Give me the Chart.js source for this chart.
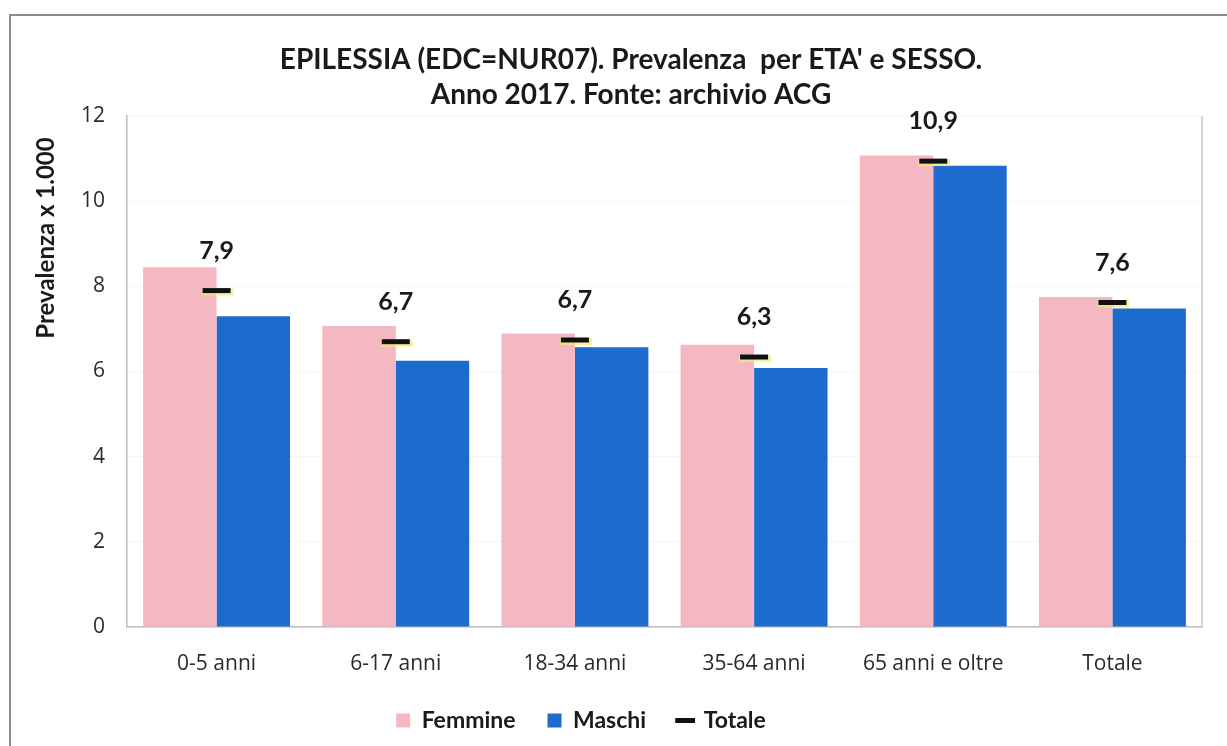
<!DOCTYPE html>
<html>
<head>
<meta charset="utf-8">
<script src="https://cdn.jsdelivr.net/npm/chart.js@4"></script>
<style>
    html, body { margin: 0; padding: 0; background: #fff; overflow: hidden; }
    #wrap { position: relative; width: 1227px; height: 746px; }
    #frame {
        position: absolute; left: 9px; top: 14px; width: 1240px; height: 760px;
        border: 2px solid #8c8c8c; box-sizing: border-box;
    }
    canvas { position: absolute; left: 0; top: 0; }
</style>
</head>
<body>
<div id="wrap">
    <div id="frame"></div>
    <canvas id="epiChart" width="1227" height="746"></canvas>
</div>
<script>
// Data
const categories = ['0-5 anni', '6-17 anni', '18-34 anni', '35-64 anni', '65 anni e oltre', 'Totale'];
const femmine = [8.45, 7.07, 6.89, 6.63, 11.07, 7.75];
const maschi = [7.30, 6.25, 6.57, 6.08, 10.83, 7.48];
const totale = [7.9, 6.7, 6.74, 6.34, 10.94, 7.62];
const yTicks = [0, 2, 4, 6, 8, 10, 12];

const FONT = 'Lato, "Open Sans", sans-serif';
const TICK_FONT = '"Open Sans", Lato, sans-serif';

// Y title, plot frame, glow under the Totale dashes and the value labels
const extras = {
    id: 'extras',
    afterLayout(chart) {
        // legend sits a bit left of centre in the original
        chart.legend.left -= 50;
        chart.legend.right -= 50;
    },
    beforeDatasetDraw(chart, args) {
        if (args.index !== 2) return;
        const ctx = chart.ctx;
        ctx.save();
        ctx.fillStyle = 'rgba(240, 235, 120, 0.7)';
        args.meta.data.forEach(pt => {
            ctx.fillRect(pt.x - 15, pt.y - 2, 32, 7);
        });
        ctx.restore();
    },
    afterDraw(chart) {
        const ctx = chart.ctx;
        const area = chart.chartArea;
        ctx.save();
        // right edge of plot
        ctx.strokeStyle = '#c8c8c8';
        ctx.lineWidth = 1.5;
        ctx.beginPath();
        ctx.moveTo(area.right, area.top);
        ctx.lineTo(area.right, area.bottom);
        ctx.stroke();

        // y axis title
        ctx.fillStyle = '#1a1a1a';
        ctx.font = 'bold 24px ' + FONT;
        ctx.textAlign = 'center';
        ctx.textBaseline = 'middle';
        ctx.translate(46, 238);
        ctx.rotate(-Math.PI / 2);
        ctx.fillText('Prevalenza x 1.000', 0, 0);
        ctx.restore();

        // labels above Totale
        const meta = chart.getDatasetMeta(2);
        ctx.save();
        ctx.fillStyle = '#1a1a1a';
        ctx.font = 'bold 25px ' + FONT;
        ctx.textAlign = 'center';
        ctx.textBaseline = 'middle';
        meta.data.forEach((pt, i) => {
            ctx.fillText(totale[i].toFixed(1).replace('.', ','), pt.x, pt.y - 40);
        });
        ctx.restore();
    }
};

const ctx = document.getElementById('epiChart').getContext('2d');
new Chart(ctx, {
    type: 'bar',
    data: {
        labels: categories,
        datasets: [
            {
                label: 'Femmine',
                data: femmine,
                backgroundColor: '#f4b8c2',
                pointStyle: 'rect',
                categoryPercentage: 0.82,
                barPercentage: 1.0,
                order: 2
            },
            {
                label: 'Maschi',
                data: maschi,
                backgroundColor: '#1d6bcc',
                pointStyle: 'rect',
                categoryPercentage: 0.82,
                barPercentage: 1.0,
                order: 2
            },
            {
                type: 'line',
                label: 'Totale',
                data: totale,
                showLine: false,
                borderColor: '#111',
                backgroundColor: '#111',
                borderWidth: 3,
                pointStyle: 'line',
                pointRadius: 14,
                pointHoverRadius: 14,
                pointBorderWidth: 5,
                pointBorderColor: '#111',
                order: 1
            }
        ]
    },
    options: {
        responsive: false,
        animation: false,
        layout: { padding: { left: 60, right: 25, top: 42, bottom: 4 } },
        plugins: {
            title: {
                display: true,
                text: ["EPILESSIA (EDC=NUR07). Prevalenza  per ETA' e SESSO.", 'Anno 2017. Fonte: archivio ACG'],
                color: '#1a1a1a',
                font: { family: FONT, size: 28, weight: 'bold', lineHeight: 1.25 },
                padding: { top: 0, bottom: 4 }
            },
            legend: {
                position: 'bottom',
                labels: {
                    usePointStyle: true,
                    boxWidth: 14,
                    boxHeight: 14,
                    padding: 32,
                    color: '#1a1a1a',
                    font: { family: FONT, size: 23, weight: 'bold' },
                    sort: (a, b) => a.datasetIndex - b.datasetIndex
                }
            },
            tooltip: { enabled: false }
        },
        scales: {
            x: {
                grid: { display: false, drawTicks: false },
                border: { color: '#bdbdbd', width: 1.5 },
                ticks: {
                    padding: 24,
                    color: '#2a2a2a',
                    font: { family: TICK_FONT, size: 21 }
                },
                afterFit: s => { s.height = 50; }
            },
            y: {
                min: 0,
                max: 12,
                afterBuildTicks: s => { s.ticks = yTicks.map(v => ({ value: v })); },
                grid: { color: 'rgba(0,0,0,0.04)', drawTicks: false },
                border: { color: '#bdbdbd', width: 1.5 },
                ticks: {
                    padding: 22,
                    color: '#2a2a2a',
                    font: { family: TICK_FONT, size: 21 }
                },
                afterFit: s => { s.width = 67; }
            }
        }
    },
    plugins: [extras]
});
</script>
</body>
</html>
